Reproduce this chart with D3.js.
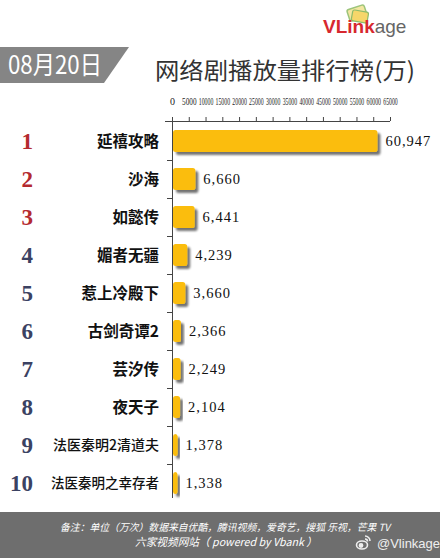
<!DOCTYPE html>
<html><head><meta charset="utf-8">
<script src="https://cdn.jsdelivr.net/npm/d3@7/dist/d3.min.js"></script>
<style>body{margin:0;background:#fff}svg{display:block}</style>
</head><body><script>
const ranks = [1,2,3,4,5,6,7,8,9,10];
const names = ["延禧攻略","沙海","如懿传","媚者无疆","惹上冷殿下","古剑奇谭2","芸汐传","夜天子","法医秦明2清道夫","法医秦明之幸存者"];
const values = [60947,6660,6441,4239,3660,2366,2249,2104,1378,1338];
const xTicks = [0,5000,10000,15000,20000,25000,30000,35000,40000,45000,50000,55000,60000,65000];
const dateLabel = "08月20日";
const titleText = "网络剧播放量排行榜(万)";
const note1 = "备注：单位（万次）数据来自优酷，腾讯视频，爱奇艺，搜狐  乐视，芒果 TV";
const note2 = "六家视频网站（ powered by Vbank ）";
const weiboText = "@Vlinkage";

const W = 440, H = 558;
const svg = d3.select("body").append("svg").attr("width", W).attr("height", H);
svg.append("rect").attr("width", W).attr("height", H).attr("fill", "#fff");

const defs = svg.append("defs");
const f = defs.append("filter").attr("id","sh").attr("x","-20%").attr("y","-20%").attr("width","160%").attr("height","160%");
f.append("feGaussianBlur").attr("in","SourceAlpha").attr("stdDeviation",1);
f.append("feOffset").attr("dx",2.5).attr("dy",2.5).attr("result","o");
f.append("feComponentTransfer").append("feFuncA").attr("type","linear").attr("slope",0.55);
const fm = f.append("feMerge"); fm.append("feMergeNode"); fm.append("feMergeNode").attr("in","SourceGraphic");

// Logo
const logo = svg.append("g");
logo.append("rect").attr("x",348).attr("y",7).attr("width",18).attr("height",12).attr("rx",2)
  .attr("fill","#f3e6a0").attr("stroke","#9cc47a").attr("stroke-width",1.5).attr("transform","rotate(-18 357 13)");
logo.append("rect").attr("x",352).attr("y",11).attr("width",16).attr("height",11).attr("rx",2)
  .attr("fill","#f6d66a").attr("stroke","#8dbb6a").attr("stroke-width",1.2).attr("transform","rotate(10 360 16)");
const lt = logo.append("text").attr("x",323).attr("y",33).attr("font-family","Liberation Sans, Arial, sans-serif").attr("font-size",19);
lt.append("tspan").attr("fill","#d7282f").attr("font-weight","bold").text("VLink");
lt.append("tspan").attr("fill","#666").text("age");

// Date banner
svg.append("path").attr("d","M0,47 L129,47 L104,83 L0,83 Z").attr("fill","#858585");
svg.append("text").attr("x",8).attr("y",74).attr("fill","#fff")
  .attr("font-family","Noto Sans CJK SC, sans-serif").attr("font-size",25)
  .attr("textLength",94).attr("lengthAdjust","spacingAndGlyphs").text(dateLabel);

// Title
svg.append("text").attr("x",155).attr("y",79).attr("fill","#333")
  .attr("font-family","Noto Sans CJK SC, sans-serif").attr("font-size",23)
  .attr("textLength",260).attr("lengthAdjust","spacingAndGlyphs").text(titleText);

// Scales
const x = d3.scaleLinear().domain([0,65000]).range([172,390]);
const y = d3.scaleBand().domain(names).range([122,502]).paddingInner(0.42).paddingOuter(0.21);
const step = y.step();

// X axis
const xa = svg.append("g").attr("transform","translate(0,121)")
  .call(d3.axisTop(x).tickValues(xTicks).tickSize(4).tickSizeOuter(0).tickFormat(d3.format("d")));
xa.select(".domain").attr("stroke","#444").attr("d","M165,0.5H390");
xa.selectAll(".tick line").attr("stroke","#444");
xa.selectAll(".tick text").attr("font-family","Liberation Serif, serif").attr("font-size",10).attr("fill","#222")
  .attr("y",0).attr("dy","0")
  .each(function(){
    const t = d3.select(this);
    const w = this.getComputedTextLength();
    const sx = Math.min(1, 14.5 / w);
    t.attr("transform", `translate(0,-16) scale(${sx},1)`);
  });

// Y axis line + boundary ticks
svg.append("line").attr("x1",172.5).attr("x2",172.5).attr("y1",121).attr("y2",498).attr("stroke","#444");
const bounds = d3.range(1, names.length).map(i => 122 + i*step);
svg.selectAll(".yt").data(bounds).enter().append("line")
  .attr("x1",167).attr("x2",172.5).attr("y1",d=>d+0.5).attr("y2",d=>d+0.5).attr("stroke","#444");

// Bars
const rows = names.map((n,i)=>({name:n, value:values[i], rank:ranks[i]}));
svg.selectAll(".bar").data(rows).enter().append("rect")
  .attr("x",173).attr("y",d=>y(d.name)).attr("height",y.bandwidth())
  .attr("width",d=>x(d.value)-x(0)).attr("rx",2.5)
  .attr("fill","#fbbd0b").attr("filter","url(#sh)");

// Value labels
svg.selectAll(".val").data(rows).enter().append("text")
  .attr("x",d=>x(d.value)+9).attr("y",d=>y(d.name)+y.bandwidth()/2+5)
  .attr("font-family","Liberation Serif, serif").attr("font-size",14.5).attr("letter-spacing",1)
  .attr("fill","#111").text(d=>d3.format(",")(d.value));

// Names
svg.selectAll(".nm").data(rows).enter().append("text")
  .attr("x",159).attr("y",d=>y(d.name)+y.bandwidth()/2+(d.rank>=9?5:6))
  .attr("text-anchor","end").attr("font-family","Noto Sans CJK SC, sans-serif")
  .attr("font-weight",d=>d.rank>=9?500:700)
  .attr("font-size",d=>d.rank===9?14:(d.rank===10?13.5:15.5)).attr("fill","#111").text(d=>d.name);

// Ranks
svg.selectAll(".rk").data(rows).enter().append("text")
  .attr("x",33).attr("y",d=>y(d.name)+y.bandwidth()/2+8)
  .attr("text-anchor","end").attr("font-family","Liberation Serif, serif").attr("font-weight","bold")
  .attr("font-size",23).attr("fill",d=>d.rank<=3?"#b42a2f":"#3b4262").text(d=>d.rank);

// Footer
svg.append("rect").attr("x",0).attr("y",512).attr("width",W).attr("height",H-512).attr("fill","#6e6e6e");
svg.append("text").attr("x",60).attr("y",531).attr("fill","#fff").attr("font-style","italic")
  .attr("font-family","Noto Sans CJK SC, sans-serif").attr("font-size",10)
  .attr("textLength",330).attr("lengthAdjust","spacingAndGlyphs").text(note1);
svg.append("text").attr("x",135).attr("y",546).attr("fill","#fff").attr("font-style","italic")
  .attr("font-family","Noto Sans CJK SC, sans-serif").attr("font-size",11)
  .attr("textLength",182).attr("lengthAdjust","spacingAndGlyphs").text(note2);
// weibo icon
const wb = svg.append("g").attr("fill","none").attr("stroke","#eee").attr("stroke-width",1.6);
wb.append("ellipse").attr("cx",362).attr("cy",545).attr("rx",5.5).attr("ry",4);
wb.append("circle").attr("cx",361).attr("cy",545.5).attr("r",1.6).attr("fill","#eee");
wb.append("path").attr("d","M365,536 a5,5 0 0 1 5,5");
wb.append("path").attr("d","M365,539 a2.5,2.5 0 0 1 2.5,2.5");
svg.append("text").attr("x",377).attr("y",548).attr("fill","#eee")
  .attr("font-family","Liberation Sans, Arial, sans-serif").attr("font-size",13).text(weiboText);
</script></body></html>
